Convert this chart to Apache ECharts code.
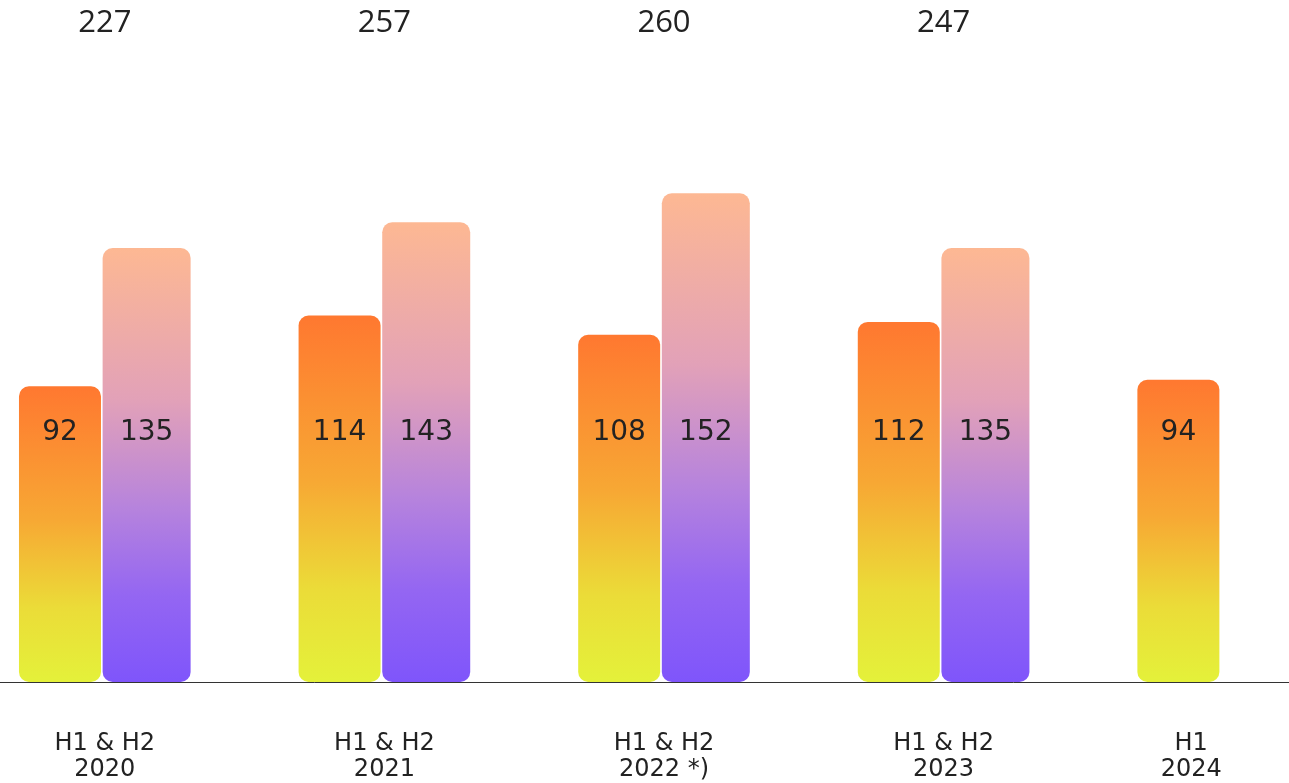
<!DOCTYPE html>
<html>
<head>
<meta charset="utf-8">
<style>
  html, body { margin: 0; padding: 0; background: #ffffff; overflow: hidden; width: 1289px; height: 783px; }
  /* the canvas is wider than the page so the five periods keep an even pitch */
  #chart { position: absolute; left: -35px; top: 0; width: 1398px; height: 783px; }
</style>
<script src="https://cdn.jsdelivr.net/npm/echarts@6/dist/echarts.min.js"></script>
</head>
<body>
<div id="chart"></div>
<script>
// Half-year figures per period
const periods = ['H1 & H2\n2020', 'H1 & H2\n2021', 'H1 & H2\n2022 *)', 'H1 & H2\n2023', 'H1\n2024'];
const firstHalf = [92, 114, 108, 112, 94];
const secondHalf = [135, 143, 152, 135, null];

// Yearly totals shown above each group (only for complete years)
const totals = firstHalf.map((v, i) => secondHalf[i] == null ? '' : String(v + secondHalf[i]));

const chart = echarts.init(document.getElementById('chart'));

const h1Fill = new echarts.graphic.LinearGradient(0, 0, 0, 1, [
  { offset: 0, color: '#ff7830' },
  { offset: 0.45, color: '#f7a834' },
  { offset: 0.75, color: '#ebdc38' },
  { offset: 1, color: '#e4f13a' }
]);
const h2Fill = new echarts.graphic.LinearGradient(0, 0, 0, 1, [
  { offset: 0, color: '#fdb893' },
  { offset: 0.35, color: '#e2a1b8' },
  { offset: 0.6, color: '#b683dd' },
  { offset: 0.8, color: '#9466f2' },
  { offset: 1, color: '#7f55fb' }
]);

const valueLabel = {
  show: true,
  position: 'insideBottom',
  distance: 235,
  fontFamily: 'DejaVu Sans',
  fontSize: 28,
  color: '#222222'
};

const labelFont = { fontFamily: 'DejaVu Sans', fontSize: 24, lineHeight: 26, color: '#222222' };

chart.setOption({
  animation: false,
  grid: { left: 0, right: 0, top: 39, bottom: 96, containLabel: false },
  xAxis: [
    {
      type: 'category',
      data: periods,
      axisLine: { show: true, lineStyle: { color: '#333333', width: 1 } },
      axisTick: { show: false },
      axisLabel: Object.assign({
        margin: 49,
        // the half-year-only period sits under its single bar
        formatter: (value, idx) => secondHalf[idx] == null
          ? value.split('\n').map(s => '{solo|' + s + '}').join('\n')
          : value,
        rich: { solo: Object.assign({ padding: [0, 64, 0, 0] }, labelFont) }
      }, labelFont)
    },
    {
      type: 'category',
      position: 'top',
      data: totals,
      axisLine: { show: false },
      axisTick: { show: false },
      axisLabel: {
        margin: 0,
        fontFamily: 'Open Sans',
        fontSize: 31,
        color: '#222222'
      }
    }
  ],
  yAxis: {
    type: 'value',
    min: 0,
    max: 200,
    show: false
  },
  series: [
    {
      name: 'H1',
      type: 'bar',
      data: firstHalf,
      barWidth: 82,
      barGap: '2%',
      itemStyle: { color: h1Fill, borderRadius: 10 },
      label: valueLabel
    },
    {
      name: 'H2',
      type: 'bar',
      data: secondHalf,
      barWidth: 88,
      itemStyle: { color: h2Fill, borderRadius: 10 },
      label: valueLabel
    }
  ]
});
</script>
</body>
</html>
